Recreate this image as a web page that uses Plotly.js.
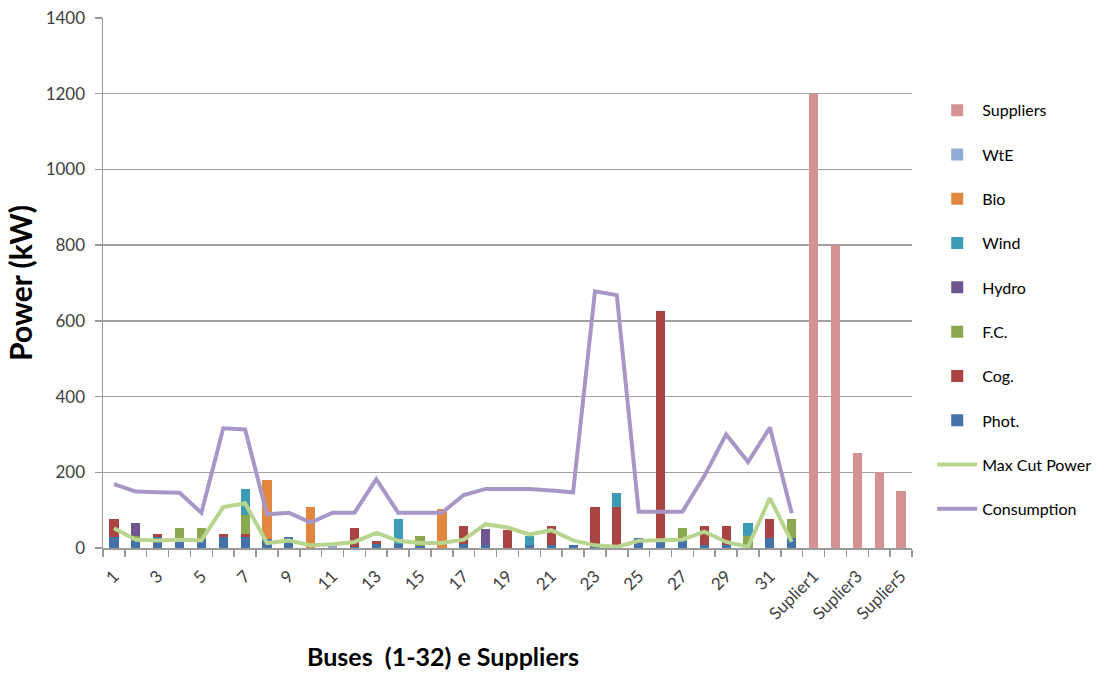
<!DOCTYPE html>
<html>
<head>
<meta charset="utf-8">
<script src="https://cdn.plot.ly/plotly-3.0.1.min.js"></script>
<style>html,body{margin:0;padding:0;background:#fff;}#chart{width:1118px;height:673px;}</style>
</head>
<body>
<div id="chart"></div>
<script>
// ---- data ----
const categories = ['1','2','3','4','5','6','7','8','9','10','11','12','13','14','15','16','17','18','19','20','21','22','23','24','25','26','27','28','29','30','31','32','Suplier1','Suplier2','Suplier3','Suplier4','Suplier5'];
const busCategories = categories.slice(0, 32);
const supplierCategories = categories.slice(32);

const phot  = [28,25,28,15,25,28,28,25,28,0,0,3,11,10,5,0,10,7,0,9,9,9,3,0,27,25,25,9,9,0,27,27];
const cog   = [48,0,8,0,0,8,8,0,0,0,0,51,8,0,0,0,48,0,47,0,49,0,105,107,0,600,0,50,49,0,49,0];
const fc    = [0,7,0,39,29,0,50,0,0,0,0,0,0,0,27,0,0,0,0,0,0,0,0,0,0,0,29,0,0,31,0,49];
const hydro = [0,35,0,0,0,0,0,0,0,0,0,0,0,0,0,0,0,43,0,0,0,0,0,0,0,0,0,0,0,0,0,0];
const wind  = [0,0,0,0,0,0,70,0,0,0,0,0,0,66,0,0,0,0,0,22,0,0,0,37,0,0,0,0,0,36,0,0];
const bio   = [0,0,0,0,0,0,0,154,0,107,0,0,0,0,0,102,0,0,0,0,0,0,0,0,0,0,0,0,0,0,0,0];
const wte   = [0,0,0,0,0,0,0,0,0,0,4,0,0,0,0,0,0,0,0,0,0,0,0,0,0,0,0,0,0,0,0,0];
const suppliers = [1200,800,250,200,150];
const maxCutPower = [52,22,20,22,20,108,118,13,20,7,10,16,40,19,13,13,22,63,54,36,47,20,7,3,19,20,22,43,16,3,132,16];
const consumption = [169,149,147,146,93,316,313,89,93,67,93,93,182,93,93,93,140,156,156,156,152,147,678,668,96,96,96,190,300,227,318,92];

const tickLabels = categories.filter((c, i) => i % 2 === 0);

// positions on a linear axis (category index)
const pos = c => categories.indexOf(c) + 1;
const busX = busCategories.map(pos);
const supX = supplierCategories.map(pos);
const tickX = tickLabels.map(pos);

const font = 'Lato, "Noto Sans", sans-serif';

function barTrace(name, y, x, color, rank) {
  return {type:'bar', name:name, x:x, y:y, marker:{color:color, line:{width:0}},
          legendgroup:name, legendrank:rank, hoverinfo:'name+y'};
}

const data = [
  barTrace('Phot.', phot, busX, '#4472AA', 8),
  barTrace('Cog.', cog, busX, '#AA4442', 7),
  barTrace('F.C.', fc, busX, '#8CA84E', 6),
  barTrace('Hydro', hydro, busX, '#6F5691', 5),
  barTrace('Wind', wind, busX, '#3E9BB5', 4),
  barTrace('Bio', bio, busX, '#E2873F', 3),
  barTrace('WtE', wte, busX, '#93AAD4', 2),
  barTrace('Suppliers', suppliers, supX, '#D49292', 1),
  {type:'scatter', mode:'lines', name:'Max Cut Power', x:busX, y:maxCutPower,
   line:{color:'#B7D58E', width:4}, legendgroup:'Max Cut Power', legendrank:9},
  {type:'scatter', mode:'lines', name:'Consumption', x:busX, y:consumption,
   line:{color:'#A897C6', width:4}, legendgroup:'Consumption', legendrank:10}
];

const layout = {
  width:1118, height:673,
  margin:{l:103, r:206, t:18, b:125},
  paper_bgcolor:'#ffffff', plot_bgcolor:'#ffffff',
  barmode:'stack', bargap:0.58,
  showlegend:true,
  font:{family:font, color:'#404040', size:16},
  xaxis:{
    type:'linear', range:[0.5, 37.5],
    tickmode:'array', tickvals:tickX, ticktext:tickLabels,
    tickangle:-45, ticks:'', showgrid:false, zeroline:false,
    showline:true, linecolor:'#9a9a9a', linewidth:1.5,
    ticklabelstandoff:10,
    tickfont:{family:font, size:17, color:'#404040'},
    minor:{tick0:0.5, dtick:1, ticks:'outside', ticklen:7, tickcolor:'#9a9a9a', tickwidth:1.5, showgrid:false}
  },
  yaxis:{
    range:[0,1400], dtick:200, tick0:0,
    showgrid:true, gridcolor:'#a0a0a0', gridwidth:1.5,
    zeroline:false, showline:true, linecolor:'#9a9a9a', linewidth:1.5,
    ticks:'outside', ticklen:7, tickcolor:'#9a9a9a', tickwidth:1.5,
    ticklabelstandoff:6,
    tickfont:{family:font, size:17, color:'#404040'},
    title:{text:'<b>Power (kW)</b>', font:{family:font, size:30, color:'#000'}, standoff:4}
  },
  legend:{
    x:1.025, xanchor:'left', y:0.858, yanchor:'top',
    traceorder:'grouped', tracegroupgap:20.5,
    font:{family:font, size:16, color:'#000'},
    bgcolor:'rgba(0,0,0,0)', itemwidth:40
  },
  annotations:[{
    xref:'paper', yref:'paper', x:(443-103)/809, y:-(656-548)/530,
    xanchor:'center', yanchor:'middle', showarrow:false,
    text:'<b>Buses  (1-32) e Suppliers</b>',
    font:{family:font, size:25, color:'#000'}
  }]
};

Plotly.newPlot('chart', data, layout, {displayModeBar:false, staticPlot:true});
</script>
</body>
</html>
